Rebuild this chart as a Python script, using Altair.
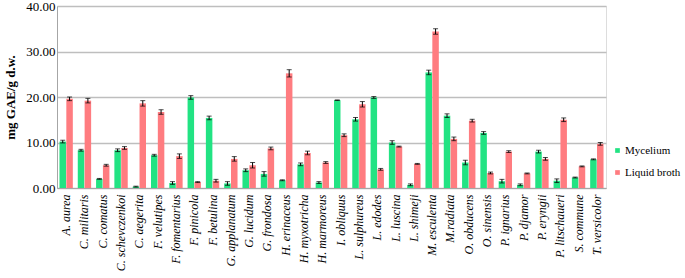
import altair as alt
import pandas as pd

species = ["A. aurea", "C. militaris", "C. comatus", "C. schevczenkoi", "C. aegerita",
           "F. velutipes", "F. fomentarius", "F. pinicola", "F. betulina", "G. applanatum",
           "G. lucidum", "G. frondosa", "H. erinaceus", "H. myxotricha", "H. marmoreus",
           "I. obliquus", "L. sulphureus", "L. edodes", "L. luscina", "L. shimeji",
           "M. esculenta", "M.radiata", "O. obducens", "O. sinensis", "P. ignarius",
           "P. djamor", "P. eryngii", "P. litschaueri", "S. commune", "T. versicolor"]

mycelium = [10.2, 8.3, 2.0, 8.3, 0.3, 7.2, 1.1, 19.9, 15.4, 1.0,
            3.9, 3.1, 1.7, 5.2, 1.2, 19.3, 15.1, 19.9, 10.0, 0.7,
            25.4, 15.9, 5.6, 12.1, 1.5, 0.7, 8.0, 1.6, 2.3, 6.3]
mycelium_err = [0.3, 0.2, 0.1, 0.3, 0.1, 0.2, 0.3, 0.4, 0.4, 0.4,
                0.3, 0.5, 0.1, 0.3, 0.2, 0.05, 0.4, 0.2, 0.4, 0.2,
                0.5, 0.4, 0.5, 0.3, 0.4, 0.2, 0.3, 0.4, 0.1, 0.1]
broth = [19.6, 19.2, 5.0, 8.8, 18.6, 16.7, 7.0, 1.3, 1.6, 6.4,
         5.0, 8.7, 25.2, 7.7, 5.6, 11.6, 18.4, 4.1, 9.1, 5.3,
         34.4, 10.8, 14.8, 3.3, 8.0, 3.2, 6.4, 15.0, 4.75, 9.7]
broth_err = [0.4, 0.5, 0.2, 0.3, 0.6, 0.5, 0.5, 0.1, 0.3, 0.5,
             0.6, 0.3, 0.8, 0.4, 0.2, 0.3, 0.6, 0.2, 0.1, 0.1,
             0.6, 0.4, 0.3, 0.2, 0.2, 0.1, 0.3, 0.4, 0.1, 0.3]

series_names = ["Mycelium", "Liquid broth"]
colors = ["#22E383", "#FF7C80"]

rows = []
for i, sp in enumerate(species):
    rows.append({"species": sp, "series": series_names[0], "value": mycelium[i],
                 "lo": mycelium[i] - mycelium_err[i], "hi": mycelium[i] + mycelium_err[i]})
    rows.append({"species": sp, "series": series_names[1], "value": broth[i],
                 "lo": broth[i] - broth_err[i], "hi": broth[i] + broth_err[i]})
df = pd.DataFrame(rows)

FONT = "Liberation Serif"

x_enc = alt.X("species:N", sort=species, title=None,
              scale=alt.Scale(paddingInner=0.27, paddingOuter=0.135),
              axis=alt.Axis(labelAngle=-90, labelAlign="right", labelBaseline="middle",
                            labelFont=FONT, labelFontStyle="italic", labelFontSize=12,
                            labelColor="#000000", labelPadding=6, ticks=False,
                            domainColor="#A6A6A6", labelOverlap=False))
xoff = alt.XOffset("series:N", sort=series_names, scale=alt.Scale(paddingInner=0.05))

y_scale = alt.Scale(domain=[0, 40])

bars = alt.Chart(df).mark_bar().encode(
    x=x_enc,
    xOffset=xoff,
    y=alt.Y("value:Q", scale=y_scale, title="mg GAE/g d.w.",
            axis=alt.Axis(values=[0, 5, 10, 15, 20, 25, 30, 35, 40], format=".2f",
                          labelFont=FONT, labelFontSize=13, labelColor="#000000",
                          titleFont=FONT, titleFontSize=13, titleFontWeight="bold",
                          titleColor="#000000", titlePadding=8, ticks=False,
                          domainColor="#A6A6A6", gridColor="#BEBEBE", gridWidth=1.5)),
    color=alt.Color("series:N", sort=series_names,
                    scale=alt.Scale(domain=series_names, range=colors),
                    legend=alt.Legend(title=None, orient="none", legendX=555, legendY=139,
                                      padding=0, symbolType="square", symbolSize=22,
                                      symbolStrokeWidth=0, labelFont=FONT,
                                      labelFontSize=11, labelColor="#000000",
                                      rowPadding=10, labelOffset=2)),
)

rules = alt.Chart(df).mark_rule(color="#000000", strokeWidth=1).encode(
    x=alt.X("species:N", sort=species),
    xOffset=xoff,
    y=alt.Y("lo:Q", scale=y_scale),
    y2="hi:Q",
)

caps_hi = alt.Chart(df).mark_tick(color="#000000", thickness=1, size=5).encode(
    x=alt.X("species:N", sort=species),
    xOffset=xoff,
    y=alt.Y("hi:Q", scale=y_scale),
)
caps_lo = alt.Chart(df).mark_tick(color="#000000", thickness=1, size=5).encode(
    x=alt.X("species:N", sort=species),
    xOffset=xoff,
    y=alt.Y("lo:Q", scale=y_scale),
)

chart = alt.layer(bars, rules, caps_hi, caps_lo).properties(
    width=549, height=182,
    autosize=alt.AutoSizeParams(type="none"),
    padding={"left": 57, "top": 6, "right": 79, "bottom": 90},
).configure_view(stroke=None).configure(background="#FFFFFF", font=FONT)

chart.save("out.html", embed_options={"renderer": "svg", "actions": False})
